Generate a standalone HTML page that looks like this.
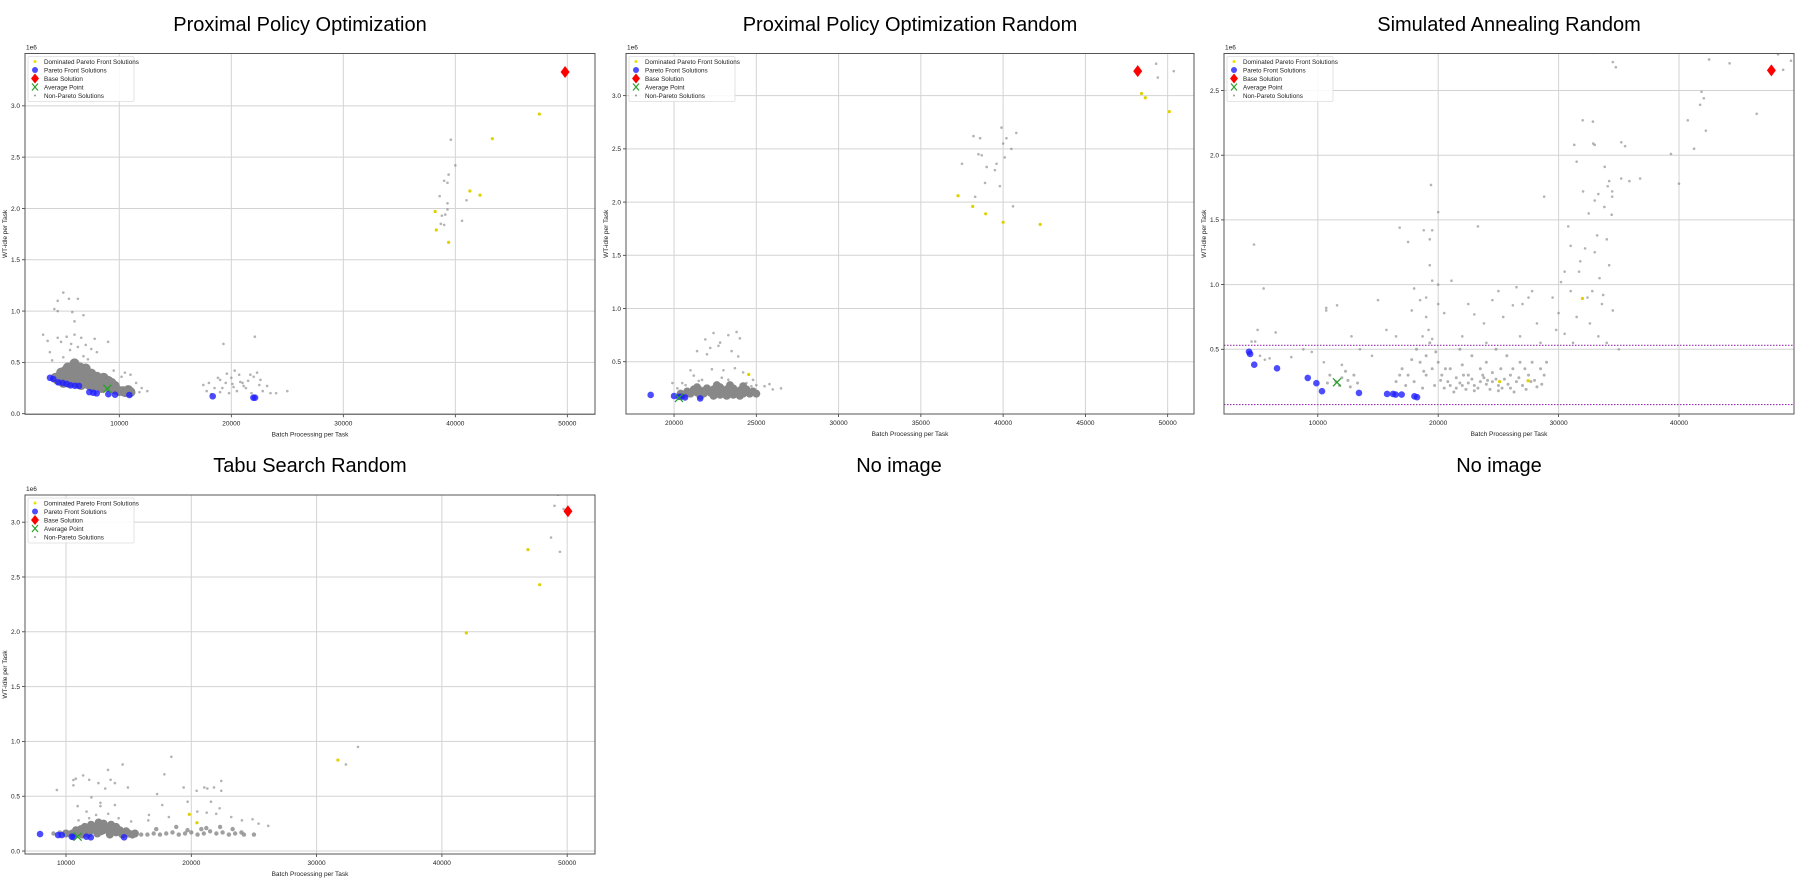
<!DOCTYPE html>
<html><head><meta charset="utf-8">
<style>
html,body{margin:0;padding:0;background:#fff;}
svg{display:block;font-family:"Liberation Sans",Arial,sans-serif;}
</style></head>
<body>
<svg id="fig" width="1800" height="880" viewBox="0 0 1800 880">
<text x="300" y="31" font-size="20" text-anchor="middle">Proximal Policy Optimization</text>
<text x="910" y="31" font-size="20" text-anchor="middle">Proximal Policy Optimization Random</text>
<text x="1509" y="31" font-size="20" text-anchor="middle">Simulated Annealing Random</text>
<text x="310" y="472" font-size="20" text-anchor="middle">Tabu Search Random</text>
<text x="899" y="472" font-size="20" text-anchor="middle">No image</text>
<text x="1499" y="472" font-size="20" text-anchor="middle">No image</text>
</svg>
<script>
// ---------- Plot 1: Proximal Policy Optimization ----------
const p1XTicks=[10000,20000,30000,40000,50000];
const p1YTicks=[0.0,0.5,1.0,1.5,2.0,2.5,3.0];
const p1Gray=[[5000,1.18],[5500,1.12],[4500,1.1],[6300,1.12],[4200,1.02],[4500,1.0],[5800,0.99],[6800,0.96],[6000,0.9],[3200,0.77],[4500,0.74],[5300,0.75],[6000,0.77],[6600,0.74],[7800,0.73],[9000,0.7],[3600,0.71],[4800,0.7],[5700,0.68],[7000,0.67],[7500,0.63],[8000,0.6],[6300,0.65],[3800,0.6],[5000,0.55],[5600,0.62],[6800,0.56],[7200,0.53],[4000,0.52],[9500,0.42],[10500,0.4],[11000,0.38],[10200,0.36],[11500,0.3],[12000,0.25],[12500,0.22],[11800,0.21],[10800,0.26],[9800,0.3],[8800,0.35],
[19300,0.68],[22100,0.75],[17500,0.28],[18000,0.3],[18500,0.25],[19000,0.33],[19500,0.3],[20000,0.35],[20300,0.42],[20700,0.38],[21000,0.3],[21500,0.32],[22000,0.36],[22500,0.28],[21300,0.25],[20500,0.22],[19800,0.2],[19000,0.21],[21800,0.2],[22800,0.22],[23500,0.2],[24000,0.2],[25000,0.22],[20200,0.26],[18800,0.35],[22300,0.4],[21700,0.38],[17800,0.22],[23200,0.27],[19600,0.39],[20800,0.31],[18200,0.19],[20100,0.29],[21100,0.27],[19200,0.25],[22600,0.33],
[39600,2.67],[40000,2.42],[39400,2.33],[39000,2.27],[39300,2.25],[38600,2.12],[41000,2.08],[39300,2.05],[39300,1.99],[39100,1.94],[38800,1.93],[38700,1.85],[40600,1.88],[39000,1.84]];
const p1Core=[[4500,0.33],[5000,0.36],[5500,0.38],[6000,0.35],[6500,0.33],[7000,0.32],[7500,0.3],[8000,0.29],[8500,0.28],[9000,0.26],[5200,0.42],[5800,0.43],[6300,0.41],[6800,0.38],[7300,0.36],[7800,0.34],[8300,0.32],[9500,0.24],[10000,0.22],[10500,0.21],[11000,0.21],[5500,0.3],[6200,0.3],[4800,0.4],[6000,0.46],[7000,0.44],[9300,0.3],[8700,0.33],[5000,0.3],[6600,0.28],[7600,0.26],
[4700,0.36],[5200,0.33],[5700,0.35],[6200,0.38],[6700,0.36],[7200,0.34],[7700,0.32],[8200,0.31],[8800,0.3],[9300,0.27],[9800,0.23],[10300,0.22],[5400,0.45],[6500,0.45],[5700,0.4],[6600,0.42],[7500,0.39],[8000,0.36],[8600,0.35],[9000,0.32],[7300,0.28],[8200,0.27],[5800,0.32],[4300,0.35],[10800,0.23],[9600,0.27],[8400,0.25],[7000,0.4],[6000,0.49]];
const p1Pareto=[[3813,0.35],[4110,0.337],[4557,0.305],[4944,0.3],[5300,0.29],[5658,0.276],[6045,0.272],[6402,0.27],[7325,0.21],[7682,0.204],[7980,0.198],[9022,0.19],[9618,0.185],[10898,0.182],[18339,0.17],[21970,0.156],[22119,0.156]];
const p1Dominated=[[47500,2.92],[43300,2.68],[41300,2.17],[42200,2.13],[38200,1.97],[38300,1.79],[39400,1.67]];
const p1Base=[[49800,3.33]];
const p1Avg=[[8930,0.243]];

// ---------- Plot 2: PPO Random ----------
const p2XTicks=[20000,25000,30000,35000,40000,45000,50000];
const p2YTicks=[0.5,1.0,1.5,2.0,2.5,3.0];
const p2Gray=[[49300,3.30],[49400,3.17],[50370,3.23],
[38200,2.62],[38600,2.6],[39900,2.7],[40200,2.6],[40500,2.5],[40100,2.42],[38500,2.45],[38700,2.44],[39600,2.36],[39000,2.33],[37500,2.36],[39800,2.15],[38300,2.05],[38900,2.18],[40600,1.96],[40000,2.55],[40800,2.65],[39500,2.3],
[22400,0.77],[21900,0.71],[22800,0.68],[23300,0.75],[23800,0.78],[22200,0.63],[22000,0.57],[21400,0.6],[23500,0.6],[23900,0.55],[22700,0.65],[24000,0.72],[21000,0.42],[22300,0.43],[23000,0.42],[23700,0.44],[24200,0.4],[20500,0.3],[19900,0.3],[25000,0.28],[25500,0.27],[26000,0.24],[26500,0.25],[25800,0.29],[21200,0.37],[24800,0.33],[20200,0.25],[21700,0.33],[22900,0.35],[24400,0.3],[21500,0.32],[23300,0.33],[24700,0.27],[20700,0.28]];
const p2Core=[[20600,0.19],[21000,0.2],[21400,0.21],[21800,0.2],[22200,0.21],[22600,0.22],[23000,0.21],[23400,0.22],[23800,0.21],[24200,0.2],[24600,0.2],[21200,0.24],[22000,0.25],[22800,0.26],[23600,0.25],[24400,0.24],[21600,0.18],[22400,0.18],[23200,0.18],[24000,0.18],[25000,0.2],
[20800,0.22],[21600,0.23],[22400,0.24],[23200,0.24],[24000,0.23],[24800,0.22],[21400,0.26],[22600,0.28],[23400,0.28],[24200,0.27],[20400,0.2],[22800,0.19],[23600,0.19],[21800,0.22]];
const p2Pareto=[[18580,0.188],[20000,0.178],[20300,0.171],[20430,0.171],[20670,0.165],[21590,0.155]];
const p2Dominated=[[48410,3.02],[48640,2.98],[50100,2.85],[37260,2.06],[38150,1.96],[38940,1.89],[40000,1.81],[42250,1.79],[24540,0.38]];
const p2Base=[[48180,3.23]];
const p2Avg=[[20300,0.16]];

// ---------- Plot 3: Simulated Annealing Random ----------
const p3XTicks=[10000,20000,30000,40000];
const p3YTicks=[0.5,1.0,1.5,2.0,2.5];
const p3HLines=[0.531,0.073];
const p3Gray=[[4700,1.31],[5500,0.97],[5000,0.65],[4500,0.56],[4800,0.56],[6500,0.63],[5200,0.45],[5600,0.42],[6000,0.43],[7800,0.44],[8800,0.5],[9500,0.48],
[10700,0.82],[10700,0.8],[11600,0.84],[12800,0.6],[13500,0.5],[15000,0.88],[14500,0.45],[12000,0.38],[10500,0.4],
[20000,1.56],[19300,1.35],[18800,1.42],[17500,1.33],[16800,1.44],[19500,1.42],[19300,1.15],[19500,1.03],[20000,1.0],[19000,0.9],[18500,0.88],[19000,0.75],[19200,0.65],[18700,0.6],[19500,0.58],[20000,0.85],[20500,0.78],[21100,1.03],[19400,1.77],[18000,0.97],[17800,0.8],[16500,0.6],[15700,0.65],
[23300,1.45],[28800,1.68],[24500,0.88],[22500,0.85],[26200,0.84],[27800,0.95],[25400,0.75],[28200,0.7],[27500,0.9],[23800,0.7],[26800,0.6],[24000,0.55],[22000,0.6],[29500,0.9],[28500,0.55],[29800,0.65],[25000,0.95],[26500,0.98],[27000,0.85],[23000,0.77],
[32900,2.79],[34500,2.72],[33000,2.08],[32000,2.27],[31300,2.08],[35200,1.82],[34200,1.8],[31500,1.95],[33800,1.6],[32500,1.55],[30800,1.45],[33200,1.38],[34000,1.35],[31000,1.3],[32200,1.28],[30500,1.1],[31700,1.1],[33400,1.05],[34200,1.15],[30200,1.02],[31000,0.95],[32800,0.95],[33600,0.85],[34500,0.8],[30000,0.78],[31500,0.75],[32600,0.7],[33300,0.6],[30500,0.62],[31200,0.55],[34000,0.55],[35000,0.5],[32400,0.9],[33700,0.92],[31800,1.18],[33000,1.25],
[34750,2.68],[42500,2.74],[44200,2.71],[48230,2.78],[49420,2.79],[49300,2.73],[48650,2.66],[49760,2.54],[41870,2.49],[42060,2.44],[41750,2.39],[46450,2.32],[40730,2.27],[42230,2.19],[41250,2.05],[39330,2.01],[32850,2.26],[32870,2.09],[35210,2.10],[35520,2.07],[33830,1.91],[35880,1.80],[36770,1.82],[40000,1.78],[34080,1.76],[32030,1.72],[33300,1.70],[34450,1.72],[34450,1.68],[33000,1.65],[34410,1.54]];
const p3Core=[[11500,0.25],[12000,0.28],[12500,0.26],[11000,0.3],[13000,0.3],[12300,0.33],[10800,0.24],[11800,0.22],[12700,0.21],[13300,0.24],
[20500,0.2],[21000,0.22],[21500,0.2],[22000,0.22],[22500,0.24],[23000,0.22],[23500,0.25],[24000,0.23],[24500,0.25],[25000,0.22],[25500,0.27],[26000,0.3],[26500,0.25],[27000,0.22],[27500,0.3],[28000,0.26],[22500,0.3],[24500,0.32],[19000,0.3],[18500,0.4],[19500,0.35],[18000,0.25],[19000,0.45],[17500,0.3],[21500,0.28],[23000,0.18],[25000,0.18],[26000,0.2],[20000,0.4],[28500,0.35],[26800,0.4],[25700,0.45],[24000,0.4],[22000,0.38],[16500,0.25],[17000,0.35],[18200,0.5],[19300,0.55],[20300,0.3],[21000,0.35],[23500,0.35],[27200,0.35],[28800,0.3],[26200,0.35],[22800,0.45],[24800,0.5],[21800,0.5],
[20800,0.25],[21300,0.17],[21800,0.24],[22300,0.19],[22800,0.27],[23300,0.2],[23800,0.28],[24300,0.19],[24800,0.27],[25300,0.2],[25800,0.23],[26300,0.17],[26700,0.28],[27300,0.19],[27700,0.25],[28200,0.21],[18700,0.2],[19700,0.22],[20200,0.26],[17800,0.42],[19800,0.48],[18800,0.33],[17300,0.22],[16800,0.3],[25200,0.35],[23700,0.3],[27800,0.4],[29000,0.4],[28600,0.23],[24100,0.26],[22100,0.3],[20600,0.35]];
const p3Pareto=[[4287,0.481],[4378,0.464],[4721,0.381],[6613,0.353],[9166,0.279],[9883,0.238],[10350,0.176],[13420,0.163],[15755,0.155],[16250,0.155],[16465,0.15],[16965,0.15],[18025,0.137],[18240,0.13]];
const p3Dominated=[[31976,0.893],[25104,0.25],[27465,0.257]];
const p3Base=[[47670,2.656]];
const p3Avg=[[11593,0.245]];

// ---------- Plot 4: Tabu Search Random ----------
const p4XTicks=[10000,20000,30000,40000,50000];
const p4YTicks=[0.0,0.5,1.0,1.5,2.0,2.5,3.0];
const p4Gray=[[48710,3.26],[49270,3.25],[48990,3.15],[49710,3.12],[48710,2.86],[49420,2.73],[33300,0.95],[32340,0.79],
[9270,0.557],[10590,0.648],[10590,0.6],[10780,0.66],[11370,0.69],[11850,0.65],[12590,0.62],[12030,0.49],[13350,0.74],[13560,0.65],[14520,0.79],[13900,0.62],[14940,0.58],[13130,0.57],[17850,0.70],[18410,0.86],[17270,0.52],[19390,0.58],[19710,0.45],[20430,0.55],[21040,0.58],[21280,0.57],[21810,0.58],[22390,0.64],[22390,0.55],[21570,0.45],[22260,0.39],[12750,0.44],[12750,0.41],[13900,0.42],[10930,0.41],[17680,0.42],[16620,0.33],[18210,0.31],[20480,0.36],[21230,0.35],[21990,0.34],[23190,0.31],[24040,0.28],[24890,0.29],[25370,0.25],[26140,0.23],[11850,0.30],[11640,0.36],[13370,0.34],[16570,0.28],[12400,0.33],[14200,0.3],[15200,0.27],[11000,0.28]];
const p4Core=[[10500,0.16],[11000,0.17],[11500,0.18],[12000,0.19],[12500,0.2],[13000,0.19],[13500,0.18],[14000,0.17],[14500,0.17],[15000,0.16],[15500,0.16],[12000,0.24],[13000,0.25],[14000,0.22],[11500,0.22],[12500,0.16],[13500,0.15],[14500,0.15],[10000,0.16],[12800,0.22],
[10800,0.19],[11300,0.15],[11800,0.16],[12300,0.22],[12800,0.18],[13300,0.21],[13800,0.2],[14300,0.19],[14800,0.18],[15300,0.15],[12600,0.26],[13600,0.24],[11200,0.2]];
const p4Band=[[16000,0.15],[16500,0.15],[17000,0.16],[17500,0.15],[18000,0.16],[18500,0.17],[19000,0.15],[19500,0.16],[20000,0.17],[20500,0.15],[21000,0.16],[21500,0.18],[22000,0.16],[22500,0.17],[23000,0.15],[23500,0.16],[24000,0.17],[17200,0.2],[18800,0.22],[20800,0.2],[22300,0.22],[23300,0.2],[19700,0.19],[21200,0.21],[24200,0.15],[25000,0.15],[9000,0.16],[9500,0.17]];
const p4Pareto=[[7930,0.155],[9370,0.146],[9660,0.146],[10460,0.131],[10590,0.128],[11630,0.131],[11980,0.125],[14640,0.125]];
const p4Dominated=[[46870,2.75],[47800,2.43],[41950,1.99],[31700,0.83],[19840,0.335],[20450,0.258]];
const p4Base=[[50060,3.10]];
const p4Avg=[[10930,0.131]];

const NS='http://www.w3.org/2000/svg';
const svg=document.getElementById('fig');
function mk(tag,attrs,parent){const e=document.createElementNS(NS,tag);for(const k in attrs)e.setAttribute(k,attrs[k]);(parent||svg).appendChild(e);return e;}

function drawPlot(id,box,xd,yd,xt,yt,layers,hlines){
  const g=mk('g',{});
  
  
  const sx=v=>box.l+(v-xd[0])/(xd[1]-xd[0])*(box.r-box.l);
  const sy=v=>box.b-(v-yd[0])/(yd[1]-yd[0])*(box.b-box.t);
  mk('rect',{x:box.l,y:box.t,width:box.r-box.l,height:box.b-box.t,fill:'#fff'},g);
  const cp='clip-'+id;
  const defs=mk('defs',{},g);const c=mk('clipPath',{id:cp},defs);
  mk('rect',{x:box.l,y:box.t,width:box.r-box.l,height:box.b-box.t},c);
  xt.forEach(v=>{const x=sx(v);
    const gl=mk('line',{x1:x,x2:x,y1:box.t,y2:box.b,stroke:'#d3d3d3','stroke-width':1},g);
    
    
    mk('line',{x1:x,x2:x,y1:box.b,y2:box.b+3,stroke:'#333','stroke-width':0.8},g);
    const t=mk('text',{x:x,y:box.b+11,'font-size':6.5,'text-anchor':'middle',fill:'#222'},g);t.textContent=v;
    
    
  });
  yt.forEach(v=>{const y=sy(v);
    const gl=mk('line',{x1:box.l,x2:box.r,y1:y,y2:y,stroke:'#d3d3d3','stroke-width':1},g);
    
    
    mk('line',{x1:box.l-3,x2:box.l,y1:y,y2:y,stroke:'#333','stroke-width':0.8},g);
    const t=mk('text',{x:box.l-5,y:y+2.3,'font-size':6.5,'text-anchor':'end',fill:'#222'},g);t.textContent=v.toFixed(1);
    
    
  });
  const pg=mk('g',{'clip-path':'url(#'+cp+')'},g);
  (hlines||[]).forEach(v=>{const l=mk('line',{x1:box.l,x2:box.r,y1:sy(v),y2:sy(v),stroke:'#9b30b0','stroke-width':1.2,'stroke-dasharray':'1.5,1.5'},pg);
    
    });
  layers.core.forEach(p=>{const e=mk('circle',{cx:sx(p[0]),cy:sy(p[1]),r:layers.coreR,fill:'#888','fill-opacity':layers.coreA},pg);
    
    });
  (layers.band||[]).forEach(p=>{const e=mk('circle',{cx:sx(p[0]),cy:sy(p[1]),r:2.2,fill:'#888','fill-opacity':0.8},pg);
    
    });
  layers.gray.forEach(p=>{const e=mk('circle',{cx:sx(p[0]),cy:sy(p[1]),r:1.3,fill:'#808080','fill-opacity':0.6},pg);
    
    });
  layers.dom.forEach(p=>{const e=mk('circle',{cx:sx(p[0]),cy:sy(p[1]),r:1.6,fill:'#e0d000'},pg);
    
    });
  layers.par.forEach(p=>{const e=mk('circle',{cx:sx(p[0]),cy:sy(p[1]),r:3.3,fill:'#2020ff','fill-opacity':0.8},pg);
    
    });
  layers.avg.forEach(p=>{const x=sx(p[0]),y=sy(p[1]);
    const e=mk('path',{d:`M${x-4},${y-4}L${x+4},${y+4}M${x-4},${y+4}L${x+4},${y-4}`,stroke:'#2ca02c','stroke-width':1.3,fill:'none'},pg);
    
    });
  layers.base.forEach(p=>{const x=sx(p[0]),y=sy(p[1]);
    const e=mk('path',{d:`M${x},${y-6}L${x+4.5},${y}L${x},${y+6}L${x-4.5},${y}Z`,fill:'#ff0000'},pg);
    
    });
  const fr=mk('rect',{x:box.l,y:box.t,width:box.r-box.l,height:box.b-box.t,fill:'none',stroke:'#555','stroke-width':1},g);
  
  
  const e6=mk('text',{x:box.l+1,y:box.t-4,'font-size':6.5,fill:'#222'},g);e6.textContent='1e6';
  
  
  const xl=mk('text',{x:(box.l+box.r)/2,y:box.b+22,'font-size':6.5,'text-anchor':'middle',fill:'#222'},g);xl.textContent='Batch Processing per Task';
  
  
  const ym=(box.t+box.b)/2;
  const yl=mk('text',{x:box.l-18,y:ym,'font-size':6.5,'text-anchor':'middle',fill:'#222',transform:`rotate(-90 ${box.l-18} ${ym})`},g);yl.textContent='WT-idle per Task';
  
  
  const lg=mk('g',{},g);
  
  
  const lx=box.l+3,ly=box.t+3;
  mk('rect',{x:lx,y:ly,width:106,height:45,fill:'#fff','fill-opacity':0.85,stroke:'#ddd','stroke-width':0.8,rx:1.5},lg);
  const names=['Dominated Pareto Front Solutions','Pareto Front Solutions','Base Solution','Average Point','Non-Pareto Solutions'];
  names.forEach((n,i)=>{const y=ly+5+i*8.5;const mx=lx+7;
    if(i===0)mk('circle',{cx:mx,cy:y,r:1.5,fill:'#f0e000'},lg);
    if(i===1)mk('circle',{cx:mx,cy:y,r:3,fill:'#2020ff','fill-opacity':0.8},lg);
    if(i===2)mk('path',{d:`M${mx},${y-5}L${mx+4},${y}L${mx},${y+5}L${mx-4},${y}Z`,fill:'#f00'},lg);
    if(i===3)mk('path',{d:`M${mx-3},${y-3.5}L${mx+3},${y+3.5}M${mx-3},${y+3.5}L${mx+3},${y-3.5}`,stroke:'#2ca02c','stroke-width':1.2},lg);
    if(i===4)mk('circle',{cx:mx,cy:y,r:1,fill:'#999'},lg);
    const t=mk('text',{x:lx+16,y:y+2.3,'font-size':6.3,fill:'#222'},lg);t.textContent=n;
    
    
  });
}

drawPlot('ppo',{l:25,r:595,t:53.5,b:414.3},[1580,52470],[-0.006,3.51],p1XTicks,p1YTicks,
  {gray:p1Gray,core:p1Core,coreR:5,coreA:1,par:p1Pareto,dom:p1Dominated,base:p1Base,avg:p1Avg});
drawPlot('ppo-random',{l:626,r:1194,t:53.5,b:414},[17080,51600],[0.009,3.396],p2XTicks,p2YTicks,
  {gray:p2Gray,core:p2Core,coreR:4,coreA:1,par:p2Pareto,dom:p2Dominated,base:p2Base,avg:p2Avg});
drawPlot('sa-random',{l:1224,r:1794,t:53.5,b:414},[2210,49550],[0.0,2.786],p3XTicks,p3YTicks,
  {gray:p3Gray,core:p3Core,coreR:1.5,coreA:0.65,par:p3Pareto,dom:p3Dominated,base:p3Base,avg:p3Avg},p3HLines);
drawPlot('tabu-random',{l:25,r:595,t:495,b:854},[6728,52220],[-0.027,3.248],p4XTicks,p4YTicks,
  {gray:p4Gray,core:p4Core,band:p4Band,coreR:4,coreA:1,par:p4Pareto,dom:p4Dominated,base:p4Base,avg:p4Avg});
</script>
</body></html>
